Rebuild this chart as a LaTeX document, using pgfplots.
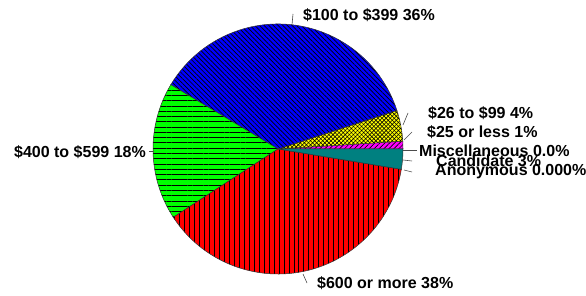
\documentclass[border=0pt]{standalone}
\usepackage{pgfplots}
\pgfplotsset{compat=1.18}
\usepackage{pgfplotstable}
\usetikzlibrary{patterns.meta}
\usepackage{fontspec}
\setmainfont{Liberation Sans}
\definecolor{pblue}{RGB}{0,0,255}
\definecolor{pgreen}{RGB}{0,255,0}
\definecolor{pred}{RGB}{255,0,0}
\definecolor{pyellow}{RGB}{255,255,0}
\definecolor{pmagenta}{RGB}{255,0,255}
\definecolor{pteal}{RGB}{0,128,128}

% slices counter-clockwise from 0 degrees
\pgfplotstableread[col sep=comma]{
label,pct
$25 or less,1.0
$26 to $99,4.0
$100 to $399,36.4
$400 to $599,17.8
$600 or more,38.2
Anonymous,0.0
Candidate,2.6
Miscellaneous,0.0
}\piedata

\tikzset{
  slice0/.style={preaction={fill=pmagenta},pattern={Lines[angle=45,distance=3.5pt,line width=0.7pt]},pattern color=black},
  slice1/.style={preaction={fill=pyellow},pattern={Lines[angle=45,distance=2.9pt,line width=0.6pt]},pattern color=black,
     postaction={pattern={Lines[angle=-45,distance=2.9pt,line width=0.6pt]},pattern color=black}},
  slice2/.style={preaction={fill=pblue},pattern={Lines[angle=-45,distance=3.3pt,line width=0.7pt]},pattern color=black},
  slice3/.style={preaction={fill=pgreen},pattern={Lines[angle=0,distance=5.3pt,line width=0.8pt]},pattern color=black},
  slice4/.style={preaction={fill=pred},pattern={Lines[angle=90,distance=5pt,line width=0.8pt]},pattern color=black},
  slice5/.style={fill=pteal},
  slice6/.style={fill=pteal},
  slice7/.style={fill=white},
  lbl/.style={inner sep=0pt,font=\fontsize{16bp}{16bp}\selectfont\bfseries},
  lead/.style={draw=black!70,line width=0.6pt},
}

\begin{document}
\begin{tikzpicture}
\begin{axis}[width=586bp,height=296bp,scale only axis,hide axis,
  xmin=0,xmax=586,ymin=0,ymax=296,clip=false,anchor=south west,at={(0,0)}]
\pgfplotstablegetrowsof{\piedata}
\pgfmathtruncatemacro\nrows{\pgfplotsretval-1}
\gdef\cumang{0}
\pgfplotsforeachungrouped \i in {0,...,\nrows}{%
  \pgfplotstablegetelem{\i}{pct}\of\piedata
  \let\pct\pgfplotsretval
  \pgfmathsetmacro\angA{\cumang}%
  \pgfmathsetmacro\angB{\cumang+3.6*\pct}%
  \xdef\cumang{\angB}%
  \ifdim\pct pt>0pt
    \edef\tmp{\noexpand\draw[slice\i,draw=black!80,line width=0.5pt] (axis cs:278,147) -- ++(\angA:125bp) arc[start angle=\angA, end angle=\angB, radius=125bp] -- cycle;}%
    \tmp
  \fi
}
% leader lines
\draw[lead] (axis cs:292,271) -- (axis cs:293,282);
\draw[lead] (axis cs:403,171) -- (axis cs:408,183);
\draw[lead] (axis cs:404,156) -- (axis cs:412,164);
\draw[lead] (axis cs:403,146) -- (axis cs:417,146);
\draw[lead] (axis cs:403,136) -- (axis cs:412,135);
\draw[lead] (axis cs:404,126) -- (axis cs:412,124);
\draw[lead] (axis cs:303,22) -- (axis cs:307,13);
\draw[lead] (axis cs:149,145) -- (axis cs:154,145);
% labels
\node[lbl,anchor=west] at (axis cs:303,281) {\$100 to \$399 36\%};
\node[lbl,anchor=west] at (axis cs:428,183) {\$26 to \$99 4\%};
\node[lbl,anchor=west] at (axis cs:427,164) {\$25 or less 1\%};
\node[lbl,anchor=west] at (axis cs:419,145) {Miscellaneous 0.0\%};
\node[lbl,anchor=west] at (axis cs:436,135) {Candidate 3\%};
\node[lbl,anchor=west] at (axis cs:435,124) {Anonymous 0.000\%};
\node[lbl,anchor=west] at (axis cs:317,13) {\$600 or more 38\%};
\node[lbl,anchor=east] at (axis cs:146,144) {\$400 to \$599 18\%};
\end{axis}
\pgfresetboundingbox
\path (0,0) rectangle (586bp,296bp);
\end{tikzpicture}
\end{document}
